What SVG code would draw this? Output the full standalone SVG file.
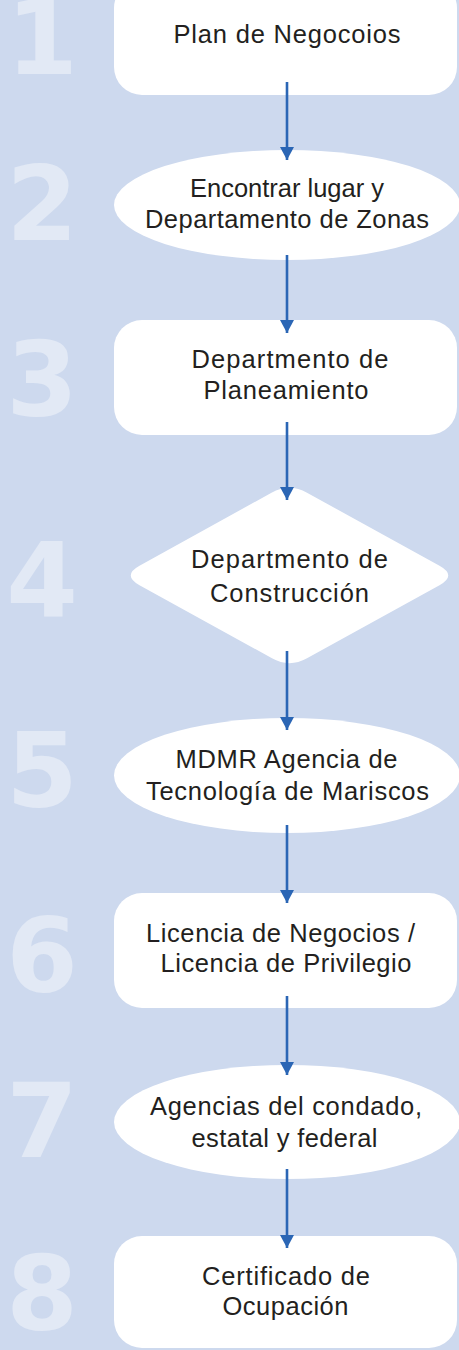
<svg xmlns="http://www.w3.org/2000/svg" width="459" height="1350" viewBox="0 0 459 1350">
<defs>
<style>
.bg{fill:#cdd9ee}
.num{font-family:"DejaVu Sans",sans-serif;font-weight:bold;font-size:103px;fill:#e2e9f5;text-anchor:middle}
.box{fill:#ffffff}
.lbl{font-family:"Liberation Sans",Arial,sans-serif;font-size:25.5px;fill:#231f20;text-anchor:middle}
.conn line{stroke:#2b66b5;stroke-width:2.6;marker-end:url(#ah)}
</style>
<marker id="ah" viewBox="0 0 13 14" refX="13" refY="7" markerWidth="13" markerHeight="14" markerUnits="userSpaceOnUse" orient="auto">
<path d="M0,0 L13,7 L0,14 Z" fill="#2b66b5"/>
</marker>
</defs>
<rect class="bg" x="0" y="0" width="459" height="1350"/>
<g id="numbers">
<text class="num" x="42" y="74">1</text>
<text class="num" x="42" y="240">2</text>
<text class="num" x="42" y="416">3</text>
<text class="num" x="42" y="617">4</text>
<text class="num" x="42" y="807">5</text>
<text class="num" x="42" y="992">6</text>
<text class="num" x="42" y="1157">7</text>
<text class="num" x="42" y="1330">8</text>
</g>
<g id="node1">
<rect class="box" x="114" y="-20" width="343" height="115" rx="28"/>
<text class="lbl" x="287" y="43" textLength="227">Plan de Negocoios</text>
</g>
<g id="node2">
<ellipse class="box" cx="287" cy="205" rx="173" ry="55"/>
<text class="lbl" x="287" y="197" textLength="194">Encontrar lugar y</text>
<text class="lbl" x="287" y="228" textLength="284">Departamento de Zonas</text>
</g>
<g id="node3">
<rect class="box" x="114" y="320" width="343" height="115" rx="28"/>
<text class="lbl" x="290" y="368" textLength="197">Departmento de</text>
<text class="lbl" x="286" y="399" textLength="165">Planeamiento</text>
</g>
<g id="node4">
<path class="box" d="M271.5,492.7 Q289.5,483 307,492.7 L439.5,565.8 Q457,575.5 439.5,585.2 L307,658.3 Q289.5,668 272,658.3 L139.5,585.2 Q122,575.5 139.5,565.8 Z"/>
<text class="lbl" x="289.5" y="568" textLength="197">Departmento de</text>
<text class="lbl" x="289.5" y="602" textLength="159">Construcción</text>
</g>
<g id="node5">
<ellipse class="box" cx="287" cy="775.5" rx="173" ry="57.5"/>
<text class="lbl" x="286.5" y="768" textLength="222">MDMR Agencia de</text>
<text class="lbl" x="287.5" y="800" textLength="283">Tecnología de Mariscos</text>
</g>
<g id="node6">
<rect class="box" x="114" y="893" width="343" height="115" rx="28"/>
<text class="lbl" x="280.5" y="942" textLength="269">Licencia de Negocios /</text>
<text class="lbl" x="286" y="972" textLength="251">Licencia de Privilegio</text>
</g>
<g id="node7">
<ellipse class="box" cx="287" cy="1122" rx="173" ry="57"/>
<text class="lbl" x="286" y="1115" textLength="272">Agencias del condado,</text>
<text class="lbl" x="284.5" y="1147" textLength="186">estatal y federal</text>
</g>
<g id="node8">
<rect class="box" x="114" y="1236" width="343" height="112" rx="28"/>
<text class="lbl" x="286" y="1285" textLength="168">Certificado de</text>
<text class="lbl" x="285.5" y="1315" textLength="126">Ocupación</text>
</g>
<g id="connectors" class="conn">
<line x1="287" y1="82" x2="287" y2="160"/>
<line x1="287" y1="255" x2="287" y2="333"/>
<line x1="287" y1="422" x2="287" y2="500"/>
<line x1="287" y1="651" x2="287" y2="730"/>
<line x1="287" y1="825" x2="287" y2="903"/>
<line x1="287" y1="996" x2="287" y2="1075"/>
<line x1="287" y1="1169" x2="287" y2="1248"/>
</g>
</svg>
